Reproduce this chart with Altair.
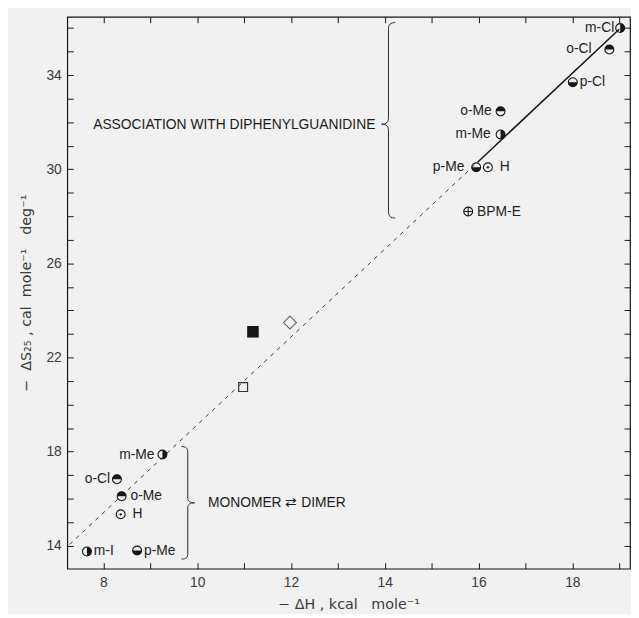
import altair as alt
import pandas as pd

# ---------------- data ----------------
PT_NAMES = ["m-Cl", "o-Cl", "p-Cl", "o-Me", "m-Me", "p-Me", "H", "BPM-E",
            "m-Me", "o-Cl", "o-Me", "H", "m-I", "p-Me"]
PT_DH = [19.02, 18.79, 18.01, 16.47, 16.47, 15.95, 16.20, 15.78,
         9.26, 8.29, 8.39, 8.37, 7.65, 8.72]
PT_DS = [36.00, 35.09, 33.70, 32.46, 31.48, 30.08, 30.08, 28.20,
         17.87, 16.82, 16.10, 15.33, 13.75, 13.79]
PT_KIND = ["right", "top", "bottom", "top", "right", "bottom", "dot", "cross",
           "right", "top", "top", "dot", "right", "bottom"]

SQ_KIND = ["filled square", "open square", "diamond"]
SQ_DH = [11.19, 10.98, 11.98]
SQ_DS = [23.09, 20.74, 23.48]

DASH_DH = [7.28, 15.98]
DASH_DS = [14.05, 30.30]
SOLID_DH = [15.98, 19.00]
SOLID_DS = [30.30, 35.95]

NOTE_TEXT = ["ASSOCIATION WITH DIPHENYLGUANIDINE", "MONOMER \u21c4 DIMER"]
NOTE_DH = [13.80, 10.23]
NOTE_DS = [31.88, 15.82]

BRACE_DH = [14.08, 9.80]
BRACE_DS = [32.08, 15.82]

X_TICKS = list(range(8, 20))
Y_TICKS = list(range(14, 37))

NB = "\u00a0"
X_TITLE = f"\u2212{NB}\u0394H{NB},{NB}kcal{NB}{NB}{NB}mole\u207b\u00b9"
Y_TITLE = (f"\u2212{NB}{NB}\u0394S\u2082\u2085{NB},{NB}cal{NB}{NB}"
           f"mole\u207b\u00b9{NB}{NB}{NB}deg\u207b\u00b9")

# ---------------- styling ----------------
LABEL_DX = [-6, -18, 7, -9, -10, -12, 12, 9, -8, -7, 9, 12, 7, 7]
X_MIN, X_MAX = 7.23, 19.23
Y_MIN, Y_MAX = 13.02, 36.48
W, H = 570, 559
PX = (X_MAX - X_MIN) / W
FONT = "Liberation Sans"
INK = "#151515"

HALF_PATHS = {
    "top": "M -1 0 A 1 1 0 0 1 1 0 Z",
    "bottom": "M -1 0 A 1 1 0 0 0 1 0 Z",
    "right": "M 0 -1 A 1 1 0 0 1 0 1 Z",
    "left": "M 0 -1 A 1 1 0 0 0 0 1 Z",
}
BRACE_LEFT = ("M 0.07 -1 C 0.02 -1 0 -0.98 0 -0.93 L 0 -0.03 "
              "C 0 0.02 -0.02 0.04 -0.07 0.04 C -0.02 0.04 0 0.06 0 0.11 "
              "L 0 0.93 C 0 0.98 0.02 1 0.07 1")
BRACE_RIGHT = ("M -0.11 -1 C -0.03 -1 0 -0.97 0 -0.9 L 0 -0.08 "
               "C 0 -0.03 0.04 0 0.12 0 C 0.04 0 0 0.03 0 0.08 "
               "L 0 0.9 C 0 0.97 -0.03 1 -0.11 1")

pts = pd.DataFrame({"name": PT_NAMES, "x": PT_DH, "y": PT_DS,
                    "kind": PT_KIND, "dx": LABEL_DX})
sq = pd.DataFrame({"kind": SQ_KIND, "x": SQ_DH, "y": SQ_DS})
dash = pd.DataFrame({"x": DASH_DH, "y": DASH_DS})
solid = pd.DataFrame({"x": SOLID_DH, "y": SOLID_DS})
notes = pd.DataFrame({"t": NOTE_TEXT, "x": NOTE_DH, "y": NOTE_DS})
braces = pd.DataFrame({"x": BRACE_DH, "y": BRACE_DS})

xs = alt.Scale(domain=[X_MIN, X_MAX], nice=False, zero=False)
ys = alt.Scale(domain=[Y_MIN, Y_MAX], nice=False, zero=False)

x_bottom = alt.Axis(orient="bottom", values=X_TICKS, offset=-6, tickSize=6,
                    domain=False, grid=False, labelOverlap=False, labelFlush=False,
                    labelExpr="datum.value % 2 == 0 ? datum.label : ''",
                    labelPadding=7, title=X_TITLE, titlePadding=8)
y_left = alt.Axis(orient="left", values=Y_TICKS, offset=-6, tickSize=6,
                  domain=False, grid=False, labelOverlap=False, labelFlush=False,
                  labelExpr="(datum.value - 14) % 4 == 0 ? datum.label : ''",
                  labelPadding=6, title=Y_TITLE, titlePadding=13)
x_top = alt.Axis(orient="top", values=X_TICKS, offset=-6, tickSize=6,
                 domain=False, grid=False, labels=False, title=None)
y_right = alt.Axis(orient="right", values=Y_TICKS, offset=-6, tickSize=6,
                   domain=False, grid=False, labels=False, title=None)


def X(axis=None):
    return alt.X("x:Q", scale=xs, axis=axis)


def Y(axis=None):
    return alt.Y("y:Q", scale=ys, axis=axis)


dash_layer = alt.Chart(dash).mark_line(
    color="#3a3a3a", strokeWidth=1, strokeDash=[4, 5]
).encode(x=X(x_bottom), y=Y(y_left))

solid_layer = alt.Chart(solid).mark_line(
    color=INK, strokeWidth=1.5
).encode(x=X(x_top), y=Y(y_right))

circles = alt.Chart(pts).mark_point(
    shape="circle", filled=False, size=81, color=INK, strokeWidth=1.1, opacity=1
).encode(x=X(), y=Y())

halves = alt.Chart(pts).transform_filter(
    "indexof(['top','bottom','left','right'], datum.kind) >= 0"
).mark_point(filled=True, size=81, color=INK, opacity=1).encode(
    x=X(), y=Y(),
    shape=alt.Shape("kind:N", legend=None,
                    scale=alt.Scale(domain=list(HALF_PATHS.keys()),
                                    range=list(HALF_PATHS.values()))),
)

dots = alt.Chart(pts).transform_filter("datum.kind == 'dot'").mark_point(
    shape="circle", filled=True, size=6, color=INK, opacity=1
).encode(x=X(), y=Y())

cross = alt.Chart(pts).transform_filter("datum.kind == 'cross'").mark_point(
    shape="M -1 0 L 1 0 M 0 -1 L 0 1", filled=False, size=81, color=INK,
    strokeWidth=1.1, opacity=1
).encode(x=X(), y=Y())

lbl_base = alt.Chart(pts).transform_calculate(lx=f"datum.x + datum.dx * {PX}")
lbl_left = lbl_base.transform_filter("datum.dx < 0").mark_text(
    align="right", baseline="middle", font=FONT, fontSize=14, color="#222"
).encode(x=alt.X("lx:Q", scale=xs, axis=None), y=Y(), text="name:N")
lbl_right = lbl_base.transform_filter("datum.dx >= 0").mark_text(
    align="left", baseline="middle", font=FONT, fontSize=14, color="#222"
).encode(x=alt.X("lx:Q", scale=xs, axis=None), y=Y(), text="name:N")

sq_filled = alt.Chart(sq).transform_filter("datum.kind == 'filled square'").mark_point(
    shape="square", filled=True, size=137, color=INK, opacity=1
).encode(x=X(), y=Y())
sq_open = alt.Chart(sq).transform_filter("datum.kind == 'open square'").mark_point(
    shape="square", filled=False, size=81, color="#333", strokeWidth=1.2, opacity=1
).encode(x=X(), y=Y())
sq_diamond = alt.Chart(sq).transform_filter("datum.kind == 'diamond'").mark_point(
    shape="diamond", filled=False, size=169, color="#666", strokeWidth=1.2, opacity=1
).encode(x=X(), y=Y())

note_layer = alt.Chart(notes).transform_calculate(
    al="datum.x > 12 ? 'r' : 'l'"
)
note_r = note_layer.transform_filter("datum.al == 'r'").mark_text(
    align="right", baseline="middle", font=FONT, fontSize=14, color="#1a1a1a"
).encode(x=X(), y=Y(), text="t:N")
note_l = note_layer.transform_filter("datum.al == 'l'").mark_text(
    align="left", baseline="middle", font=FONT, fontSize=14, color="#1a1a1a"
).encode(x=X(), y=Y(), text="t:N")

brace_up = alt.Chart(braces.iloc[[0]]).mark_point(
    shape=BRACE_LEFT, filled=False, size=198 ** 2, color="#2a2a2a",
    strokeWidth=1, opacity=1
).encode(x=X(), y=Y())
brace_lo = alt.Chart(braces.iloc[[1]]).mark_point(
    shape=BRACE_RIGHT, filled=False, size=114 ** 2, color="#2a2a2a",
    strokeWidth=1, opacity=1
).encode(x=X(), y=Y())

chart = alt.layer(
    dash_layer, solid_layer, brace_up, brace_lo,
    circles, halves, dots, cross,
    sq_filled, sq_open, sq_diamond,
    lbl_left, lbl_right, note_r, note_l,
).resolve_axis(x="independent", y="independent").properties(
    width=W, height=H,
    autosize=alt.AutoSizeParams(type="none"),
    padding={"left": 60, "top": 5, "right": 1, "bottom": 42},
    background="#f1f1f1",
).configure_view(
    stroke=INK, strokeWidth=1.2
).configure_axis(
    labelFont=FONT, labelFontSize=14, labelColor="#3a3a3a",
    titleFont="DejaVu Sans", titleFontSize=14.5, titleColor="#3a3a3a",
    titleFontWeight="normal", tickColor=INK, tickWidth=1,
)

chart.save("out.html", embed_options={"renderer": "svg", "actions": False})
